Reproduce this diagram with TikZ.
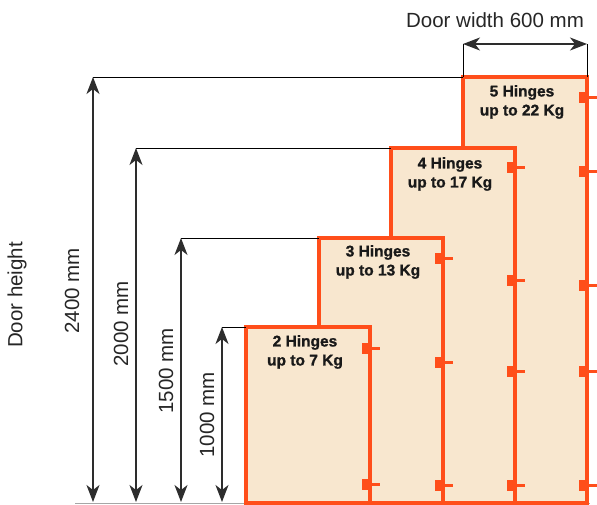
\documentclass[tikz,border=0pt]{standalone}
\usepackage{fontspec}
\setmainfont{Liberation Sans}
\newfontfamily\heavyfont{Liberation Sans}[BoldFeatures={FakeBold=1.2}]
\usetikzlibrary{arrows.meta}

\definecolor{doorred}{RGB}{255,78,26}
\definecolor{doorfill}{RGB}{248,231,207}
\definecolor{dimgray}{RGB}{45,45,45}

\begin{document}
\begin{tikzpicture}[x=1pt,y=-1pt,
    door/.style={draw=doorred, fill=doorfill, line width=3.6pt, outer sep=0pt, inner sep=0pt, minimum width=124pt, anchor=south west},
    dimline/.style={draw=dimgray, line width=1.2pt, {Stealth[length=17pt,width=13pt,inset=5pt]}-{Stealth[length=17pt,width=13pt,inset=5pt]}},
    leader/.style={draw=black, line width=0.9pt},
    dimlabel/.style={font=\fontsize{20.5}{24}\selectfont, text=black!85},
    loadlabel/.style={font=\heavyfont\fontsize{15.5}{19}\selectfont\bfseries, text=black!90, align=center}]

        \useasboundingbox (0,0) rectangle (597,505);

        % Ground line
        \coordinate (ground-l) at (75,503);
        \coordinate (ground-r) at (590,503);
        \draw[gray!70, line width=1pt] (ground-l) -- (ground-r);

        % Doors, tallest first so the smaller ones sit on top
        \node[door, minimum height=426pt] (D-5) at (463,503) {};
        \node[door, minimum height=355pt] (D-4) at (391,503) {};
        \node[door, minimum height=265pt] (D-3) at (319,503) {};
        \node[door, minimum height=176pt] (D-2) at (246,503) {};

        % Hinges on the right edge of each door
        \foreach \x/\y in {587/98, 587/172, 587/285, 587/371, 587/485,
                           515/168, 515/280, 515/371, 515/485,
                           443/258, 443/362, 443/485,
                           370/348, 370/484}
        {
            \fill[doorred] (\x-8,\y-5.5) rectangle (\x,\y+5.5);
            \draw[doorred, line width=3pt] (\x,\y) -- (\x+10,\y);
        }

        % Load labels
        \node[loadlabel] (L-5) at (522,102) {5 Hinges\\up to 22 Kg};
        \node[loadlabel] (L-4) at (450,174) {4 Hinges\\up to 17 Kg};
        \node[loadlabel] (L-3) at (378,262) {3 Hinges\\up to 13 Kg};
        \node[loadlabel] (L-2) at (305,352) {2 Hinges\\up to 7 Kg};

        % Height dimensions
        \foreach \h/\x/\d in {2400/93/5, 2000/136/4, 1500/181/3, 1000/222/2}
        {
            \coordinate (T-\h) at (\x,0 |- D-\d.north west);
            \coordinate (B-\h) at (\x,502);
            \draw[leader] (T-\h) -- (D-\d.north west);
            \draw[dimline] (B-\h) -- (T-\h);
        }
        \node[dimlabel, rotate=90] (lab-2400) at (72,291) {2400 mm};
        \node[dimlabel, rotate=90] (lab-2000) at (121,324) {2000 mm};
        \node[dimlabel, rotate=90] (lab-1500) at (166,371) {1500 mm};
        \node[dimlabel, rotate=90] (lab-1000) at (207,415) {1000 mm};
        \node[dimlabel, rotate=90] (lab-height) at (17,295) {Door height};

        % Width dimension
        \coordinate (W-l) at (463,44);
        \coordinate (W-r) at (587,44);
        \draw[leader] (D-5.north west) -- (W-l);
        \draw[leader] (D-5.north east) -- (W-r);
        \draw[dimline] (W-l) -- (W-r);
        \node[dimlabel] (lab-width) at (495,20) {Door width 600 mm};

    \end{tikzpicture}
\end{document}
